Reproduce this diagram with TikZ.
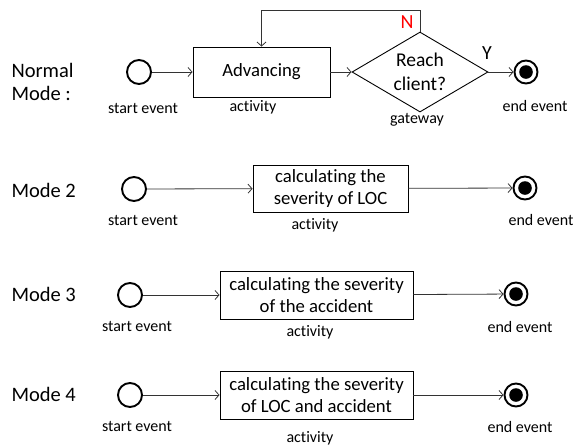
\documentclass[tikz,border=0pt]{standalone}
\usepackage{fontspec}
\setmainfont{Carlito}[Ligatures=NoCommon]
\usetikzlibrary{shapes.geometric,arrows.meta}

\begin{document}
\begin{tikzpicture}[x=1pt, y=-1pt,
        startev/.style={circle, draw, line width=1.9pt, minimum size=24pt, inner sep=0pt},
        endev/.style={circle, draw, line width=1.9pt, minimum size=23pt, inner sep=0pt,
            path picture={\fill (path picture bounding box.center) circle (6.8pt);}},
        task/.style={draw, line width=0.9pt, align=center, inner sep=0pt,
            font=\fontsize{18.7}{22.5}\selectfont},
        tag/.style={font=\fontsize{16}{18}\selectfont},
        mode/.style={anchor=west, align=left, font=\fontsize{20.5}{23}\selectfont},
        flow/.style={-{Straight Barb[length=4pt,width=9pt]}, line width=0.8pt, black!80}]
    \useasboundingbox (0,0) rectangle (574,445);

    \node[mode] (m1) at (8,81.5) {Normal\\Mode :};
    \node[startev] (s1) at (139,72) {};
    \node[task, minimum width=137pt, minimum height=50pt] (a1) at (261.5,72) {Advancing};
    \node[draw, diamond, line width=0.9pt, shape aspect=1.7, inner sep=0pt,
        minimum width=136pt, minimum height=80pt, align=center,
        font=\fontsize{19.5}{24}\selectfont] (g1) at (420,72) {Reach\\client?};
    \node[endev] (e1) at (526,72) {};
    \node[tag] (s1t) at (143,108) {start event};
    \node[tag] (a1t) at (253,107) {activity};
    \node[tag] (g1t) at (417,120) {gateway};
    \node[tag] (e1t) at (535,106) {end event};
    \node[text=red, font=\fontsize{20}{22}\selectfont] (no) at (407,22) {N};
    \node[font=\fontsize{20}{22}\selectfont] (yes) at (487,53) {Y};
    \draw[flow] (s1) -- (a1);
    \draw[flow] (a1) -- (g1);
    \draw[flow] (g1) -- (e1);
    \draw[flow] (g1.north) -- (g1.north |- 0,10) -| (a1.north);

    \node[mode] (m2) at (8,190) {Mode 2};
    \node[startev] (s2) at (134,189) {};
    \node[task, minimum width=155pt, minimum height=47pt] (a2) at (330.5,188.5) {calculating the\\severity of LOC};
    \node[endev] (e2) at (525,188) {};
    \node[tag] (s2t) at (143,220) {start event};
    \node[tag] (a2t) at (315,225) {activity};
    \node[tag] (e2t) at (541,220) {end event};
    \draw[flow] (s2) -- (a2);
    \draw[flow] (a2) -- (e2);

    \node[mode] (m3) at (8,294) {Mode 3};
    \node[startev] (s3) at (130,295) {};
    \node[task, minimum width=193pt, minimum height=48pt] (a3) at (316.5,295) {calculating the severity\\of the accident};
    \node[endev] (e3) at (516,294) {};
    \node[tag] (s3t) at (137,326) {start event};
    \node[tag] (a3t) at (310,332) {activity};
    \node[tag] (e3t) at (520,327) {end event};
    \draw[flow] (s3) -- (a3);
    \draw[flow] (a3) -- (e3);

    \node[mode] (m4) at (8,394) {Mode 4};
    \node[startev] (s4) at (130,395) {};
    \node[task, minimum width=193pt, minimum height=48pt] (a4) at (316.5,395) {calculating the severity\\of LOC and accident};
    \node[endev] (e4) at (516,395) {};
    \node[tag] (s4t) at (137,426) {start event};
    \node[tag] (a4t) at (310,438) {activity};
    \node[tag] (e4t) at (520,427) {end event};
    \draw[flow] (s4) -- (a4);
    \draw[flow] (a4) -- (e4);
\end{tikzpicture}
\end{document}
